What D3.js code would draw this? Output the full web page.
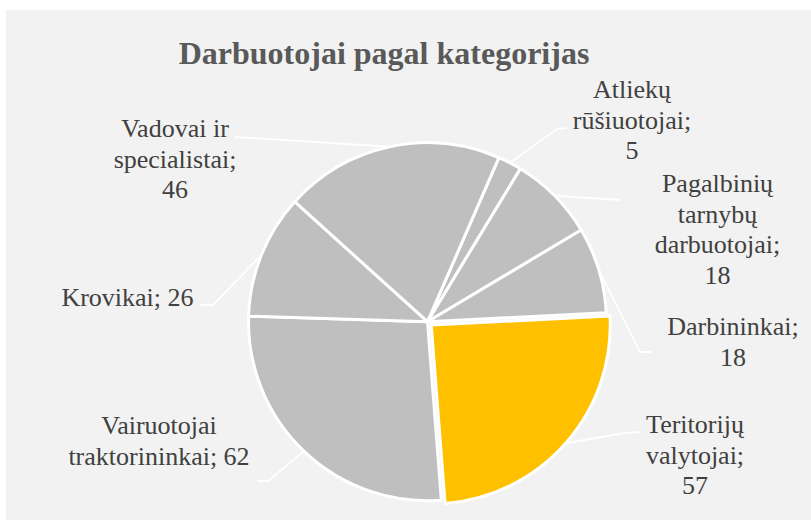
<!DOCTYPE html>
<html lang="lt">
<head>
    <meta charset="UTF-8">
    <title>Darbuotojai pagal kategorijas</title>
    <style>
        body {
            margin: 0;
            padding: 0;
            background: #ffffff;
        }
        svg {
            display: block;
        }
        .title {
            font-family: 'Liberation Serif', 'Times New Roman', Times, 'DejaVu Serif', serif;
            font-size: 32px;
            font-weight: bold;
            fill: #595959;
            text-anchor: middle;
        }
        .label {
            font-family: 'Liberation Serif', 'Times New Roman', Times, 'DejaVu Serif', serif;
            font-size: 26px;
            fill: #404040;
            text-anchor: middle;
        }
        .leader {
            fill: none;
            stroke: #ffffff;
            stroke-width: 1.8px;
        }
    </style>
</head>
<body>
    <script src="https://d3js.org/d3.v7.min.js"></script>
    <script>
        // Data, in drawing order (clockwise from the top)
        const categories = ['Atliekų rūšiuotojai', 'Pagalbinių tarnybų darbuotojai', 'Darbininkai',
            'Teritorijų valytojai', 'Vairuotojai traktorininkai', 'Krovikai', 'Vadovai ir specialistai'];
        const values = [5, 18, 18, 57, 62, 26, 46];
        // how Excel wrapped each data label
        const labelLines = [
            ['Atliekų', 'rūšiuotojai;', '5'],
            ['Pagalbinių', 'tarnybų', 'darbuotojai;', '18'],
            ['Darbininkai;', '18'],
            ['Teritorijų', 'valytojai;', '57'],
            ['Vairuotojai', 'traktorininkai; 62'],
            ['Krovikai; 26'],
            ['Vadovai ir', 'specialistai;', '46']
        ];
        const highlighted = 'Teritorijų valytojai';

        // Layout
        const width = 811;
        const height = 520;
        const cx = 427.5, cy = 321.7, radius = 179;
        const explode = 5;
        const startAngle = 23.5 * Math.PI / 180;
        const lineHeight = 30.5;

        // label anchor (centre x, first baseline) and leader bends, per slice
        const labelPos = [
            { x: 632, y: 98, bends: [[557, 129], [567, 128]] },
            { x: 717.5, y: 192, bends: [[620, 200]] },
            { x: 733, y: 335, bends: [[640, 352], [652, 352]] },
            { x: 695, y: 433, bends: [[625, 433], [640, 432]] },
            { x: 159, y: 434, bends: [[268, 481], [257, 481]] },
            { x: 127.5, y: 306, bends: [[213, 305], [200, 305]] },
            { x: 175, y: 137, bends: [[235, 137]] }
        ];

        const svg = d3.select('body').append('svg')
            .attr('width', width)
            .attr('height', height);

        // chart area background
        svg.append('rect')
            .attr('x', 6)
            .attr('y', 10)
            .attr('width', width - 6)
            .attr('height', height - 10)
            .attr('fill', '#f2f2f2');

        svg.append('text')
            .attr('class', 'title')
            .attr('x', 384)
            .attr('y', 64)
            .text('Darbuotojai pagal kategorijas');

        const pie = d3.pie()
            .sort(null)
            .value(d => d.value)
            .startAngle(startAngle)
            .endAngle(startAngle + 2 * Math.PI);

        const arcs = pie(categories.map((c, i) => ({ name: c, value: values[i], lines: labelLines[i] })));

        const arc = d3.arc()
            .innerRadius(0)
            .outerRadius(radius);

        function offset(d) {
            if (d.data.name !== highlighted) return [0, 0];
            const mid = (d.startAngle + d.endAngle) / 2;
            return [explode * Math.sin(mid), -explode * Math.cos(mid)];
        }

        const color = d => d.data.name === highlighted ? '#ffc000' : '#bfbfbf';

        // leader lines first, so the slices' white border covers their start
        const edgePoint = d => {
            const mid = (d.startAngle + d.endAngle) / 2;
            const o = offset(d);
            return [cx + o[0] + radius * Math.sin(mid), cy + o[1] - radius * Math.cos(mid)];
        };

        svg.append('g')
            .selectAll('path')
            .data(arcs)
            .join('path')
            .attr('class', 'leader')
            .attr('d', (d, i) => d3.line()([edgePoint(d)].concat(labelPos[i].bends)));

        svg.append('g')
            .attr('transform', `translate(${cx},${cy})`)
            .selectAll('path')
            .data(arcs)
            .join('path')
            .attr('d', arc)
            .attr('transform', d => `translate(${offset(d)[0]},${offset(d)[1]})`)
            .attr('fill', color)
            .attr('stroke', '#ffffff')
            .attr('stroke-width', 3)
            .attr('stroke-linejoin', 'round');

        const labels = svg.append('g')
            .selectAll('text')
            .data(arcs)
            .join('text')
            .attr('class', 'label')
            .attr('x', (d, i) => labelPos[i].x)
            .attr('y', (d, i) => labelPos[i].y);

        labels.selectAll('tspan')
            .data(d => d.data.lines)
            .join('tspan')
            .attr('x', function() { return this.parentNode.getAttribute('x'); })
            .attr('dy', (l, j) => j === 0 ? 0 : lineHeight)
            .text(l => l);
    </script>
</body>
</html>
